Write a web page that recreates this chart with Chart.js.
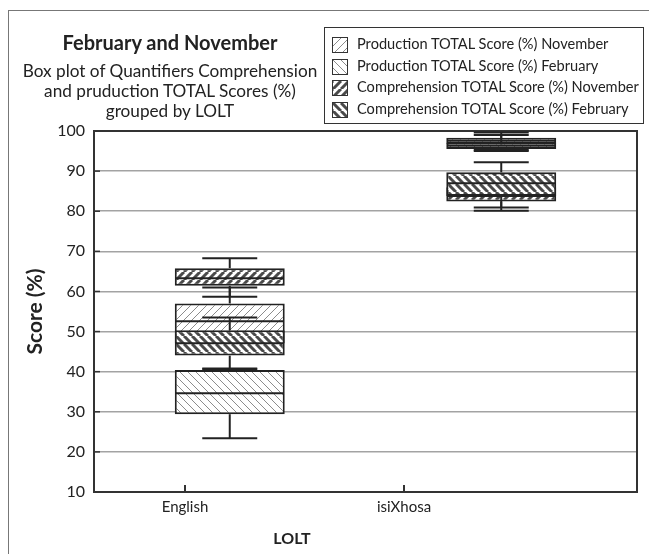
<!DOCTYPE html>
<html>
<head>
<meta charset="utf-8">
<script src="https://cdn.jsdelivr.net/npm/chart.js@4.4.1/dist/chart.umd.min.js"></script>
<style>
  html, body { margin:0; padding:0; background:#fff; }
  body { width:649px; height:554px; position:relative; overflow:hidden; font-family: Lato, "Open Sans", sans-serif; color:#222; }
  #frame { position:absolute; left:8px; top:10px; width:700px; height:600px; border-left:1.5px solid #777; border-top:1.5px solid #777; }
  #c { position:absolute; left:0; top:0; }
  .tl { position:absolute; left:9px; width:322px; text-align:center; white-space:nowrap; height:22px; line-height:22px; }
  #legend { position:absolute; left:324px; top:27px; width:320px; height:97px; border:1px solid #333; box-sizing:border-box; background:#fff; }
  .li { position:absolute; left:7px; height:20px; line-height:20px; font-size:14.6px; white-space:nowrap; }
  .li canvas { position:absolute; left:0; top:3px; border:1px solid #333; box-sizing:border-box; }
  .li span { position:absolute; left:25px; top:0; }
  #xtitle { position:absolute; left:242px; width:100px; top:527px; height:22px; line-height:22px; text-align:center; font-weight:bold; font-size:16px; }
</style>
</head>
<body>
<div id="frame"></div>
<canvas id="c" width="649" height="554"></canvas>
<div class="tl" style="top:31px;font-weight:bold;font-size:20px;">February and November</div>
<div class="tl" style="top:60px;font-size:17.2px;">Box plot of Quantifiers Comprehension</div>
<div class="tl" style="top:80px;font-size:17.2px;">and pruduction TOTAL Scores (%)</div>
<div class="tl" style="top:100px;font-size:17.2px;">grouped by LOLT</div>
<div id="legend"></div>
<div id="xtitle">LOLT</div>
<script>
// ---------- data ----------
const categories = ['English', 'isiXhosa'];
const seriesNames = [
  'Production TOTAL Score (%) November',
  'Production TOTAL Score (%) February',
  'Comprehension TOTAL Score (%) November',
  'Comprehension TOTAL Score (%) February'
];
// each entry: [min, q1, median, q3, max] for English, isiXhosa
const prodNov = [[45.0, 47.0, 52.6, 57.0, 61.0], [95.3, 96.8, 97.6, 98.3, 99.6]];
const prodFeb = [[23.4, 29.4, 34.6, 40.4, 40.8], [95.0, 95.5, 96.3, 97.1, 99.0]];
const compNov = [[58.7, 61.4, 63.3, 65.8, 68.3], [80.1, 82.4, 83.8, 86.0, 89.0]];
const compFeb = [[40.6, 44.0, 47.1, 50.3, 53.5], [80.9, 83.8, 87.0, 89.7, 92.2]];
const yMin = 10, yMax = 100, yStep = 10;

const seriesStats = [prodNov, prodFeb, compNov, compFeb];
const hatchDir = ['/', '\\', '/', '\\'];
const hatchDark = [false, false, true, true];

// ---------- patterns ----------
const mainCanvas = document.getElementById('c');
const mainCtx = mainCanvas.getContext('2d');
function hatchTile(dir, dark) {
  const s = 8;
  const t = document.createElement('canvas');
  t.width = t.height = s;
  const g = t.getContext('2d');
  g.fillStyle = '#fff'; g.fillRect(0, 0, s, s);
  g.strokeStyle = dark ? '#4a4a4a' : '#8c8c8c';
  g.lineWidth = dark ? 3 : 1;
  g.beginPath();
  for (const o of [-s, 0, s]) {
    if (dir === '/') { g.moveTo(o, s); g.lineTo(o + s, 0); }
    else { g.moveTo(o, 0); g.lineTo(o + s, s); }
  }
  g.stroke();
  return t;
}
const patterns = hatchDir.map((d, i) => mainCtx.createPattern(hatchTile(d, hatchDark[i]), 'repeat'));

// ---------- legend (HTML) ----------
const legend = document.getElementById('legend');
seriesNames.forEach((name, i) => {
  const row = document.createElement('div');
  row.className = 'li';
  row.style.top = (6 + i * 21.7) + 'px';
  const sw = document.createElement('canvas');
  sw.width = 14; sw.height = 14;
  const sg = sw.getContext('2d');
  sg.fillStyle = sg.createPattern(hatchTile(hatchDir[i], hatchDark[i]), 'repeat');
  sg.fillRect(0, 0, 14, 14);
  const sp = document.createElement('span');
  sp.textContent = name;
  row.appendChild(sw); row.appendChild(sp);
  legend.appendChild(row);
});

// ---------- datasets ----------
const drawOrder = [3, 2, 1, 0]; // lower = drawn later (on top)
const datasets = seriesNames.map((name, i) => ({
  label: name,
  data: seriesStats[i].map(s => [s[1], s[3]]),
  stats: seriesStats[i],
  backgroundColor: patterns[i],
  borderColor: '#222',
  borderWidth: 2,
  borderSkipped: false,
  grouped: false,
  order: drawOrder[i],
  categoryPercentage: 1,
  barPercentage: 0.405
}));

const FONT = 'Lato, "Open Sans", sans-serif';

const whiskerPlugin = {
  id: 'whiskers',
  afterDatasetDraw(chart, args) {
    const ds = chart.data.datasets[args.index];
    const ys = chart.scales.y;
    const ctx = chart.ctx;
    ctx.save();
    ctx.strokeStyle = '#222';
    ctx.lineWidth = 2;
    args.meta.data.forEach((bar, i) => {
      const [mn, q1, md, q3, mx] = ds.stats[i];
      const p = bar.getProps(['x', 'width'], true);
      const half = p.width / 2, cap = p.width / 4;
      const seg = (x1, y1, x2, y2) => { ctx.beginPath(); ctx.moveTo(x1, y1); ctx.lineTo(x2, y2); ctx.stroke(); };
      seg(p.x - half + 1, ys.getPixelForValue(md), p.x + half - 1, ys.getPixelForValue(md));
      seg(p.x, ys.getPixelForValue(q3), p.x, ys.getPixelForValue(mx));
      seg(p.x, ys.getPixelForValue(q1), p.x, ys.getPixelForValue(mn));
      seg(p.x - cap, ys.getPixelForValue(mx), p.x + cap, ys.getPixelForValue(mx));
      seg(p.x - cap, ys.getPixelForValue(mn), p.x + cap, ys.getPixelForValue(mn));
    });
    ctx.restore();
  }
};

const framePlugin = {
  id: 'frameTicks',
  beforeDatasetsDraw(chart) {
    const {ctx, chartArea: a} = chart;
    ctx.save();
    ctx.strokeStyle = '#333';
    ctx.lineWidth = 2;
    ctx.strokeRect(a.left, a.top, a.right - a.left, a.bottom - a.top);
    ctx.lineWidth = 1.5;
    chart.scales.y.ticks.forEach(t => {
      const y = chart.scales.y.getPixelForValue(t.value);
      ctx.beginPath(); ctx.moveTo(a.left, y); ctx.lineTo(a.left + 6, y); ctx.stroke();
    });
    ctx.restore();
  },
  afterDraw(chart) {
    const {ctx, chartArea: a} = chart;
    ctx.save();
    ctx.strokeStyle = '#333';
    ctx.lineWidth = 2;
    chart.scales.x2.ticks.forEach(t => {
      const x = chart.scales.x2.getPixelForValue(t.value);
      ctx.beginPath(); ctx.moveTo(x, a.bottom); ctx.lineTo(x, a.bottom - 7); ctx.stroke();
    });
    ctx.restore();
  }
};

new Chart(mainCanvas, {
  type: 'bar',
  data: { labels: categories, datasets },
  plugins: [whiskerPlugin, framePlugin],
  options: {
    responsive: false,
    animation: false,
    events: [],
    layout: { padding: { top: 131, right: 12, bottom: 0, left: 0 } },
    plugins: { legend: { display: false }, tooltip: { enabled: false }, title: { display: false } },
    scales: {
      x: { type: 'category', display: false, offset: true },
      x2: {
        type: 'linear', position: 'bottom',
        offset: false, bounds: 'ticks',
        min: -0.4155, max: 2.0639,
        afterFit: s => { s.height = 62; },
        afterBuildTicks: s => { s.ticks = categories.map((c, i) => ({ value: i })); },
        grid: { display: false, drawTicks: false, offset: false },
        border: { display: false },
        ticks: { padding: 6, color: '#222', font: { family: FONT, size: 15 }, callback: v => categories[v] }
      },
      y: {
        type: 'linear', position: 'left',
        min: yMin, max: yMax,
        afterFit: s => { s.width = 94; },
        ticks: { stepSize: yStep, padding: 9, color: '#222', font: { family: FONT, size: 16 } },
        grid: { color: '#a3a3a3', lineWidth: 1.5, drawTicks: false },
        border: { display: true, color: '#333', width: 2 },
        title: { display: true, text: 'Score (%)', color: '#222', font: { family: FONT, size: 21, weight: 'bold' }, padding: { top: 23, bottom: 0 } }
      }
    }
  }
});
</script>
</body>
</html>
